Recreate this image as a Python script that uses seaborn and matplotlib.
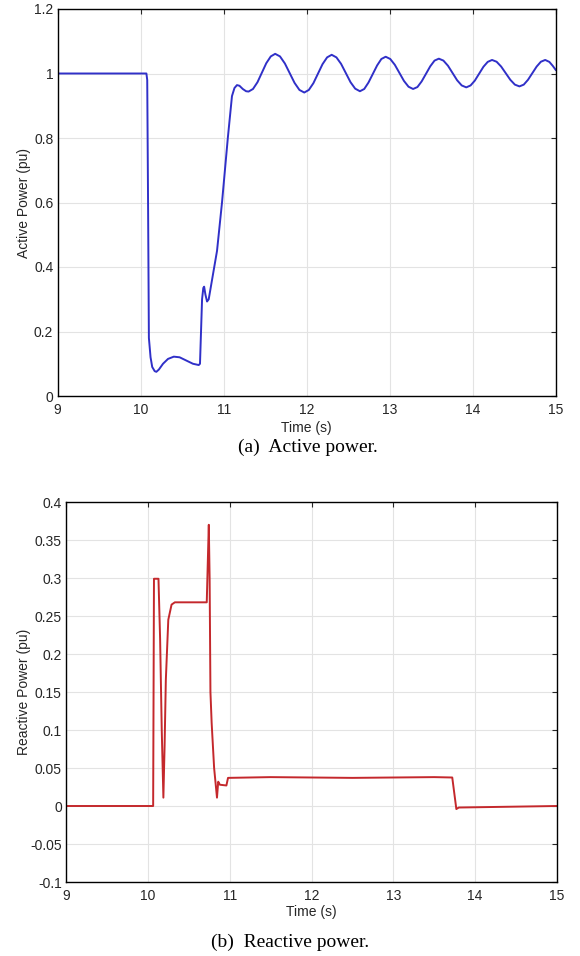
import matplotlib
matplotlib.use("Agg")
import matplotlib.pyplot as plt
import seaborn as sns
import pandas as pd

# ---------------- data ----------------
active_time = [9.0, 10.07, 10.08, 10.09, 10.10, 10.12, 10.14, 10.17, 10.19, 10.22, 10.27, 10.33, 10.40,
               10.47, 10.55, 10.63, 10.70, 10.715, 10.74, 10.755, 10.765, 10.78, 10.80, 10.82, 10.86,
               10.92, 10.98, 11.05, 11.10, 11.13, 11.16, 11.19, 11.23, 11.27, 11.30,
               11.353, 11.407, 11.46, 11.513, 11.567, 11.62,
               11.678, 11.737, 11.795, 11.853, 11.912, 11.97,
               12.025, 12.08, 12.135, 12.19, 12.245, 12.30,
               12.357, 12.413, 12.47, 12.527, 12.583, 12.64,
               12.692, 12.743, 12.795, 12.847, 12.898, 12.95,
               13.005, 13.06, 13.115, 13.17, 13.225, 13.28,
               13.332, 13.383, 13.435, 13.487, 13.538, 13.59,
               13.645, 13.70, 13.755, 13.81, 13.865, 13.92,
               13.972, 14.023, 14.075, 14.127, 14.178, 14.23,
               14.285, 14.34, 14.395, 14.45, 14.505, 14.56,
               14.612, 14.663, 14.715, 14.767, 14.818, 14.87,
               14.92, 14.96, 15.0]
active_power = [1.0, 1.0, 0.98, 0.60, 0.18, 0.12, 0.09, 0.077, 0.075, 0.082, 0.10, 0.115, 0.122,
                0.12, 0.11, 0.10, 0.096, 0.10, 0.30, 0.335, 0.339, 0.315, 0.293, 0.30, 0.36,
                0.45, 0.60, 0.80, 0.93, 0.955, 0.964, 0.962, 0.952, 0.945, 0.944,
                0.952, 0.973, 1.0025, 1.032, 1.053, 1.061,
                1.053, 1.031, 1.001, 0.971, 0.949, 0.941,
                0.949, 0.970, 0.9995, 1.029, 1.050, 1.058,
                1.050, 1.030, 1.0015, 0.973, 0.953, 0.945,
                0.952, 0.972, 0.9985, 1.025, 1.045, 1.052,
                1.045, 1.027, 1.002, 0.977, 0.959, 0.952,
                0.958, 0.9755, 0.999, 1.0225, 1.040, 1.046,
                1.040, 1.024, 1.0015, 0.979, 0.963, 0.957,
                0.963, 0.978, 0.9995, 1.021, 1.036, 1.042,
                1.0365, 1.0215, 1.001, 0.9805, 0.9655, 0.960,
                0.9655, 0.9805, 1.001, 1.0215, 1.0365, 1.042,
                1.036, 1.024, 1.010]

reactive_time = [9.0, 10.065, 10.075, 10.094, 10.13, 10.15, 10.17, 10.19, 10.205, 10.22, 10.25, 10.29,
                 10.33, 10.72, 10.735, 10.745, 10.755, 10.765, 10.78, 10.81, 10.845, 10.86, 10.88,
                 10.96, 10.98, 11.5, 12.5, 13.5, 13.72, 13.77, 13.80, 15.0]
reactive_power = [0.0, 0.0, 0.299, 0.299, 0.299, 0.22, 0.10, 0.011, 0.08, 0.166, 0.245, 0.265,
                  0.268, 0.268, 0.33, 0.370, 0.30, 0.15, 0.109, 0.05, 0.011, 0.032, 0.028,
                  0.027, 0.037, 0.038, 0.037, 0.038, 0.0375, -0.004, -0.002, 0.0]

x_ticks = [9, 10, 11, 12, 13, 14, 15]
x_tick_labels = ["9", "10", "11", "12", "13", "14", "15"]
p_ticks = [0, 0.2, 0.4, 0.6, 0.8, 1.0, 1.2]
p_tick_labels = ["0", "0.2", "0.4", "0.6", "0.8", "1", "1.2"]
q_ticks = [-0.1, -0.05, 0, 0.05, 0.1, 0.15, 0.2, 0.25, 0.3, 0.35, 0.4]
q_tick_labels = ["-0.1", "-0.05", "0", "0.05", "0.1", "0.15", "0.2", "0.25", "0.3", "0.35", "0.4"]

df_p = pd.DataFrame({"Time (s)": active_time, "Active Power (pu)": active_power})
df_q = pd.DataFrame({"Time (s)": reactive_time, "Reactive Power (pu)": reactive_power})

# ---------------- style ----------------
sns.set_theme(style="white")
plt.rcParams["font.family"] = ["Liberation Sans", "DejaVu Sans"]
plt.rcParams["axes.unicode_minus"] = False

W, H = 580, 956
fig = plt.figure(figsize=(W / 100, H / 100), dpi=100)

def px_axes(l, t, r, b):
    return fig.add_axes([l / W, 1 - b / H, (r - l) / W, (b - t) / H])

ax1 = px_axes(57.5, 9, 556, 396)
ax2 = px_axes(66, 502, 557, 882)

sns.lineplot(data=df_p, x="Time (s)", y="Active Power (pu)", ax=ax1, color="#3030c8",
             linewidth=1.4, estimator=None, sort=False)
sns.lineplot(data=df_q, x="Time (s)", y="Reactive Power (pu)", ax=ax2, color="#c4282c",
             linewidth=1.4, estimator=None, sort=False)

def style(ax, yt, ytl, ylim, ylab_x, xlab_y):
    ax.set_xlim(9, 15)
    ax.set_ylim(*ylim)
    ax.set_xticks(x_ticks)
    ax.set_xticklabels(x_tick_labels)
    ax.set_yticks(yt)
    ax.set_yticklabels(ytl)
    ax.grid(True, color="#e3e3e3", linewidth=0.8)
    ax.set_axisbelow(True)
    for s in ax.spines.values():
        s.set_color("black")
        s.set_linewidth(1.0)
        s.set_visible(True)
    ax.tick_params(direction="in", length=3.5, width=0.8, top=True, right=True,
                   labelsize=10, labelcolor="#262626", color="#262626")
    ax.tick_params(axis="x", pad=5)
    ax.tick_params(axis="y", pad=3)
    ax.set_xlabel("Time (s)", fontsize=10, color="#262626")
    ax.set_ylabel(ax.get_ylabel(), fontsize=10, color="#262626")
    ax.yaxis.set_label_coords(ylab_x, 0.5)
    ax.xaxis.set_label_coords(0.5, xlab_y)

style(ax1, p_ticks, p_tick_labels, (0, 1.2), (24 - 57.5) / 498.5, -32 / 387)
style(ax2, q_ticks, q_tick_labels, (-0.1, 0.4), (24 - 66) / 491, -30 / 380)
for ax in (ax1, ax2):
    ax.xaxis.label.set_va("center")
    ax.yaxis.label.set_va("center")

cap_font = ["Liberation Serif", "DejaVu Serif"]
fig.text(308 / W, 1 - 447 / H, "(a)  Active power.", ha="center", va="center",
         fontsize=14, family=cap_font, color="black")
fig.text(290 / W, 1 - 942 / H, "(b)  Reactive power.", ha="center", va="center",
         fontsize=14, family=cap_font, color="black")

fig.savefig("out.png", dpi=100)
